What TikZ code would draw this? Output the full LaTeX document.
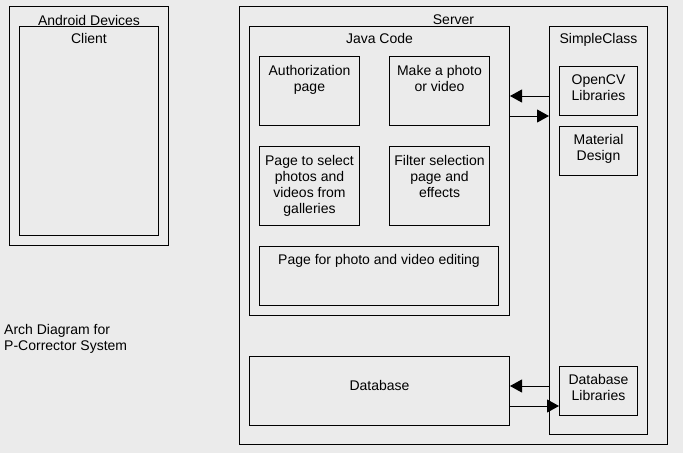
\documentclass[tikz,border=0pt]{standalone}
\usepackage{fontspec}
\setmainfont{Liberation Sans}
\usetikzlibrary{arrows.meta}
\definecolor{bg}{HTML}{EBEBEB}

\tikzset{
  box/.style={draw, line width=1pt, inner sep=0pt, anchor=north west},
  txt/.style={anchor=north, align=center, inner sep=0pt, font=\fontsize{14}{16}\selectfont},
  link/.style={line width=1pt, -{Triangle[length=12pt,width=13pt]}}
}

\begin{document}
\begin{tikzpicture}[x=1pt, y=-1pt]
        \fill[bg] (0,0) rectangle (683,453);
        \useasboundingbox (0,0) rectangle (683,453);

        % client side
        \node (devices) [box, minimum width=159pt, minimum height=239pt] at (9,6) {};
        \node (client) [box, minimum width=139pt, minimum height=209pt] at (19,26) {};
        \node (devicestxt) [txt] at ([yshift=-9pt]devices.north) {Android Devices};
        \node (clienttxt) [txt] at ([yshift=-7.5pt]client.north) {Client};

        % server side
        \node (server) [box, minimum width=428pt, minimum height=438pt] at (239,6) {};
        \node (servertxt) [txt] at ([yshift=-9pt]server.north) {Server};
        \node (java) [box, minimum width=260pt, minimum height=289pt] at (249,26) {};
        \node (javatxt) [txt] at ([yshift=-7.5pt]java.north) {Java Code};

        \node (auth) [box, minimum width=100pt, minimum height=69pt] at (259,56) {};
        \node (authtxt) [txt] at ([yshift=-9pt]auth.north) {Authorization\\page};
        \node (photo) [box, minimum width=100pt, minimum height=69pt] at (389,56) {};
        \node (phototxt) [txt] at ([yshift=-9pt]photo.north) {Make a photo\\or video};
        \node (gallery) [box, minimum width=100pt, minimum height=79pt] at (259,146) {};
        \node (gallerytxt) [txt] at ([yshift=-9pt]gallery.north) {Page to select\\photos and\\videos from\\galleries};
        \node (filter) [box, minimum width=100pt, minimum height=79pt] at (389,146) {};
        \node (filtertxt) [txt] at ([yshift=-9pt]filter.north) {Filter selection\\page and\\effects};
        \node (editing) [box, minimum width=239pt, minimum height=59pt] at (259,246) {};
        \node (editingtxt) [txt] at ([yshift=-8.5pt]editing.north) {Page for photo and video editing};

        \node (database) [box, minimum width=260pt, minimum height=69pt] at (249,356) {};
        \node (databasetxt) [txt] at ([yshift=-24.5pt]database.north) {Database};

        \node (simple) [box, minimum width=98pt, minimum height=408pt] at (549,26) {};
        \node (simpletxt) [txt] at ([yshift=-7.5pt]simple.north) {SimpleClass};
        \node (opencv) [box, minimum width=78pt, minimum height=49pt] at (559,66) {};
        \node (opencvtxt) [txt] at ([yshift=-8.5pt]opencv.north) {OpenCV\\Libraries};
        \node (material) [box, minimum width=78pt, minimum height=49pt] at (559,126) {};
        \node (materialtxt) [txt] at ([yshift=-8.5pt]material.north) {Material\\Design};
        \node (dblib) [box, minimum width=78pt, minimum height=49pt] at (559,366) {};
        \node (dblibtxt) [txt] at ([yshift=-8.5pt]dblib.north) {Database\\Libraries};

        \node (caption) [txt, anchor=north west, align=left] at (4,324.5) {Arch Diagram for\\P-Corrector System};

        % connectors
        \coordinate (javain) at ([yshift=-70pt]java.north east);
        \coordinate (javaout) at ([yshift=-90pt]java.north east);
        \coordinate (dbin) at ([yshift=-30pt]database.north east);
        \coordinate (dbout) at ([yshift=-50pt]database.north east);
        \draw[link] (simple.west |- javain) -- (javain);
        \draw[link] (javaout) -- (simple.west |- javaout);
        \draw[link] (simple.west |- dbin) -- (dbin);
        \draw[link] (dbout) -- (dblib.west |- dbout);
    \end{tikzpicture}
\end{document}
